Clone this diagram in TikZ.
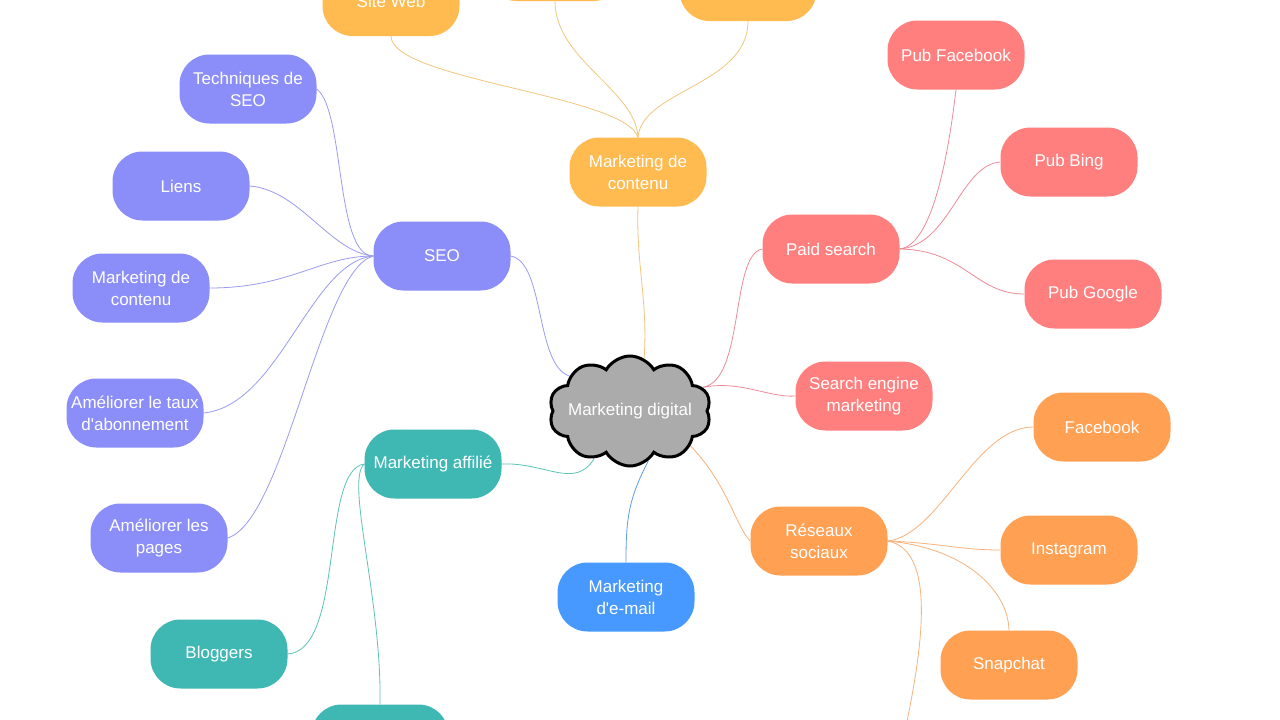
\documentclass[tikz,border=0pt]{standalone}
\usepackage{fontspec}
\setmainfont{Liberation Sans}
\usetikzlibrary{shapes.symbols,backgrounds}
\definecolor{purp}{HTML}{8B8EF8}
\definecolor{purpl}{HTML}{9A9CF0}
\definecolor{gold}{HTML}{FFBA50}
\definecolor{goldl}{HTML}{F2C67E}
\definecolor{redc}{HTML}{FF7F7F}
\definecolor{redl}{HTML}{EC8C98}
\definecolor{orng}{HTML}{FFA052}
\definecolor{orngl}{HTML}{F8B27C}
\definecolor{teal}{HTML}{3FB8B4}
\definecolor{teall}{HTML}{5EC2B9}
\definecolor{bluec}{HTML}{4799FF}
\definecolor{bluel}{HTML}{5E9EE6}
\begin{document}
\begin{tikzpicture}[x=1pt,y=-1pt,
  box/.style={rectangle, rounded corners=30pt, minimum width=137pt, minimum height=69pt,
    inner sep=0pt, text=white, align=center, font=\fontsize{17}{22}\selectfont},
  pbox/.style={box, fill=purp},
  gbox/.style={box, fill=gold},
  rbox/.style={box, fill=redc},
  obox/.style={box, fill=orng},
  tbox/.style={box, fill=teal},
  bbox/.style={box, fill=bluec},
  lnk/.style={line width=0.8pt},
]
\useasboundingbox (0,0) rectangle (1280,720);

% centre
\node[cloud, cloud puffs=10, cloud puff arc=120, cloud ignores aspect, draw=black, line width=3pt,
  fill=black!33, minimum width=162pt, minimum height=110pt, inner sep=0pt] (cloud) at (630,411) {};
\node[text=white, font=\fontsize{17}{22}\selectfont, inner sep=0pt] (cloudtxt) at (630,411) {Marketing digital};

% content (gold)
\node[gbox] (mdc) at (638,172) {Marketing de\\contenu};
\node[gbox] (site) at (391,1.5) {Site Web};
\node[gbox] (gmid) at (555,-33.5) {};
\node[gbox] (grt) at (748,-13.5) {};

% SEO (purple)
\node[pbox] (seo) at (442,256) {SEO};
\node[pbox] (tech) at (248,89) {Techniques de\\SEO};
\node[pbox] (liens) at (181,186) {Liens};
\node[pbox] (pmdc) at (141,288) {Marketing de\\contenu};
\node[pbox] (taux) at (135,413) {Améliorer le taux\\d\textquotesingle abonnement};
\node[pbox] (pages) at (159,538) {Améliorer les\\pages};

% affiliate (teal)
\node[tbox] (aff) at (433,464) {Marketing affilié};
\node[tbox] (blog) at (219,654) {Bloggers};
\node[tbox] (tbot) at (380,739) {};

% email
\node[bbox] (email) at (626,597) {Marketing\\d\textquotesingle e-mail};

% paid (red)
\node[rbox] (paid) at (831,249) {Paid search};
\node[rbox] (pfb) at (956,55) {Pub Facebook};
\node[rbox] (pbing) at (1069,162) {Pub Bing};
\node[rbox] (pgoo) at (1093,294) {Pub Google};
\node[rbox] (sem) at (864,396) {Search engine\\marketing};

% social (orange)
\node[obox] (rs) at (819,541) {Réseaux\\sociaux};
\node[obox] (fb) at (1102,427) {Facebook};
\node[obox] (insta) at (1069,550) {Instagram};
\node[obox] (snap) at (1009,665) {Snapchat};
\coordinate (rsoff) at (903,740);

\begin{scope}[on background layer]
\fill[white] (0,0) rectangle (1280,720);
% gold
\draw[lnk, goldl] (site.south) .. controls (392,80) and (625,95) .. (mdc.north);
\draw[lnk, goldl] (gmid.south) .. controls (555,60) and (636,90) .. (mdc.north);
\draw[lnk, goldl] (grt.south) .. controls (748,85) and (642,90) .. (mdc.north);
\draw[lnk, goldl] (mdc.south) .. controls (636,265) and (648,300) .. (cloud.75);
% purple
\draw[lnk, purpl] (seo.east) .. controls (545,262) and (535,365) .. (cloud.150);
\draw[lnk, purpl] (seo.west) .. controls (335,256) and (345,110) .. (tech.east);
\draw[lnk, purpl] (seo.west) .. controls (330,252) and (300,190) .. (liens.east);
\draw[lnk, purpl] (seo.west) .. controls (320,256) and (290,288) .. (pmdc.east);
\draw[lnk, purpl] (seo.west) .. controls (310,262) and (280,405) .. (taux.east);
\draw[lnk, purpl] (seo.west) .. controls (320,270) and (285,520) .. (pages.east);
% teal
\draw[lnk, teall] (aff.east) .. controls (545,462) and (575,490) .. (cloud.233);
\draw[lnk, teall] (aff.west) .. controls (320,470) and (345,650) .. (blog.east);
\draw[lnk, teall] (aff.west) .. controls (345,480) and (382,600) .. (tbot.north);
% blue
\draw[lnk, bluel] (cloud.290) .. controls (628,500) and (626,520) .. (email.north);
% red
\draw[lnk, redl] (cloud.18) .. controls (745,380) and (730,255) .. (paid.west);
\draw[lnk, redl] (cloud.18) .. controls (740,380) and (770,398) .. (sem.west);
\draw[lnk, redl] (paid.east) .. controls (935,245) and (950,140) .. (pfb.south);
\draw[lnk, redl] (paid.east) .. controls (950,245) and (960,165) .. (pbing.west);
\draw[lnk, redl] (paid.east) .. controls (965,250) and (975,294) .. (pgoo.west);
% orange
\draw[lnk, orngl] (cloud.330) .. controls (728,485) and (735,525) .. (rs.west);
\draw[lnk, orngl] (rs.east) .. controls (940,535) and (975,427) .. (fb.west);
\draw[lnk, orngl] (rs.east) .. controls (940,543) and (960,550) .. (insta.west);
\draw[lnk, orngl] (rs.east) .. controls (965,548) and (1008,590) .. (snap.north);
\draw[lnk, orngl] (rs.east) .. controls (935,550) and (925,640) .. (rsoff);
\end{scope}
\end{tikzpicture}
\end{document}
